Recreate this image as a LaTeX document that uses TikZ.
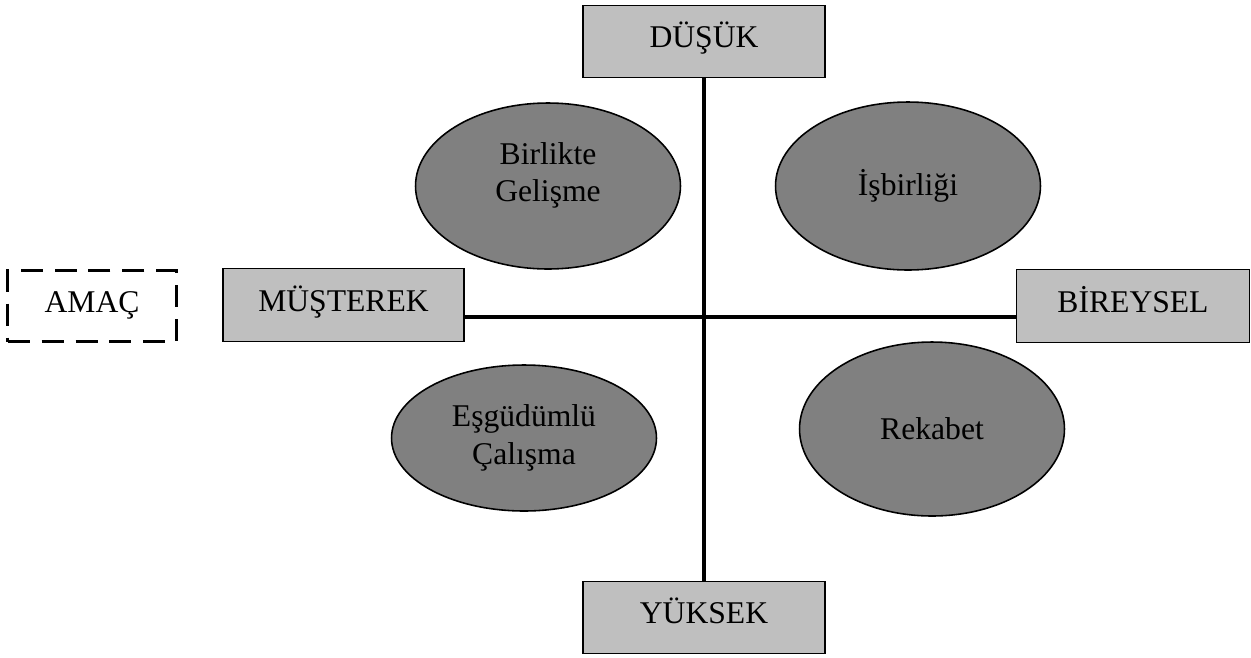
\documentclass[tikz,border=0pt]{standalone}
\usepackage{fontspec}
\setmainfont{Liberation Serif}
\usetikzlibrary{shapes.geometric}

\begin{document}
\begin{tikzpicture}[x=0.02cm, y=-0.02cm,
    kutu/.style={draw, line width=0.8pt, fill=gray!50, minimum width=4.84cm, minimum height=1.45cm, inner sep=0pt, text height=12pt, text depth=4.8pt},
    elips/.style={ellipse, draw, line width=0.9pt, fill=gray, minimum width=5.3cm, inner sep=0pt, align=center},
    eksen/.style={line width=2pt}]

    \useasboundingbox (0,0) rectangle (1251,657);
    \fontsize{18}{21.5}\selectfont

    \node[kutu] (a) at (704, 41.5) {DÜŞÜK};
    \node[kutu] (b) at (704, 617.5) {YÜKSEK};
    \node[kutu, minimum width=4.82cm] (c) at (343.5, 305) {MÜŞTEREK};
    \node[kutu, minimum width=4.66cm] (d) at (1133, 306) {BİREYSEL};
    \node[draw, dash pattern=on 0.44cm off 0.24cm, line width=1.6pt, minimum width=3.38cm, minimum height=1.42cm, inner sep=0pt, text height=12pt, text depth=4.8pt] (e) at (92, 306) {AMAÇ};

    \node[elips, minimum height=3.32cm, text depth=16pt] (f) at (548, 186) {Birlikte\\Gelişme};
    \node[elips, minimum height=3.36cm] (g) at (908, 186) {İşbirliği};
    \node[elips, minimum height=2.92cm] (h) at (524, 438) {Eşgüdümlü\\Çalışma};
    \node[elips, minimum height=3.48cm] (i) at (932, 429) {Rekabet};

    \coordinate (o) at (704, 317);

    \draw [eksen] (a) -- (b);
    \draw [eksen] (c.east |- o) -- (d.west |- o);

  \end{tikzpicture}
\end{document}
